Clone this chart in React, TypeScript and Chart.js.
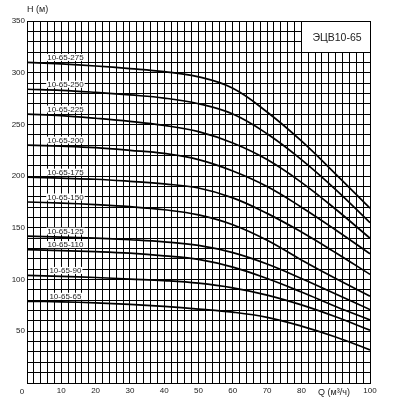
import React, { useEffect, useRef } from "react";
import { Chart, registerables } from "chart.js";

Chart.register(...registerables);

const Q_POINTS = [0, 10, 20, 30, 40, 50, 60, 70, 80, 90, 100];

const H_275 = [310, 308.5, 306.5, 304, 301, 296, 285, 262, 234, 202, 169];
const H_250 = [284, 283, 281, 278.5, 275.5, 270, 260, 241, 216, 187, 155];
const H_225 = [260, 258.5, 256, 253, 249, 243, 232, 216, 194, 168, 140];
const H_200 = [230, 229, 227.5, 225, 222, 216, 205, 190, 170, 148, 125];
const H_175 = [199, 198, 197, 195, 192.5, 188.5, 179, 164, 146, 126, 105];
const H_150 = [175, 174, 172.5, 170.5, 167.5, 162.5, 153, 138, 119, 101, 84];
const H_125 = [142, 141, 140, 138.5, 136.5, 133, 126, 115, 101, 86, 71];
const H_110 = [129, 128, 127, 125.5, 123, 119.5, 112, 101, 88, 74, 61];
const H_90 = [104, 103, 102, 100.5, 99, 96.5, 92, 85, 75.5, 64, 51];
const H_65 = [79, 78.5, 77.5, 76, 74, 71.5, 68.5, 63.5, 55, 44.5, 32];

const SERIES_NAMES = [
  "10-65-275",
  "10-65-250",
  "10-65-225",
  "10-65-200",
  "10-65-175",
  "10-65-150",
  "10-65-125",
  "10-65-110",
  "10-65-90",
  "10-65-65",
];
const SERIES_VALUES = [H_275, H_250, H_225, H_200, H_175, H_150, H_125, H_110, H_90, H_65];

const X_TICK_LABELS = ["10", "20", "30", "40", "50", "60", "70", "80", "100"];
const LABEL_Q = 11.2;
const TITLE_TEXT = "ЭЦВ10-65";
const TITLE_BOX_Q = [80, 100];
const TITLE_BOX_H = [320, 350];
const Y_TITLE = "H (м)";
const X_TITLE = "Q (м³/ч)";
const X_TITLE_Q = 89.5;

const FONT = "'Liberation Sans', Arial, sans-serif";

const overlayPlugin = {
  id: "overlay",
  afterDatasetsDraw(chart: any) {
    const { ctx, scales, chartArea } = chart;
    const xs = scales.x;
    const ys = scales.y;
    ctx.save();
    // curve labels
    ctx.font = `8px ${FONT}`;
    ctx.textAlign = "center";
    ctx.textBaseline = "middle";
    SERIES_NAMES.forEach((name, i) => {
      const cx = xs.getPixelForValue(LABEL_Q);
      const cy = ys.getPixelForValue(SERIES_VALUES[i][0]) - 5;
      const w = ctx.measureText(name).width;
      ctx.fillStyle = "#fff";
      ctx.fillRect(cx - w / 2 - 1, cy - 3.5, w + 2, 7);
      ctx.fillStyle = "#222";
      ctx.fillText(name, cx, cy + 0.5);
    });
    // title box
    const bx0 = Math.round(xs.getPixelForValue(TITLE_BOX_Q[0])) + 0.5;
    const bx1 = Math.round(xs.getPixelForValue(TITLE_BOX_Q[1])) + 0.5;
    const by0 = Math.round(ys.getPixelForValue(TITLE_BOX_H[1])) + 0.5;
    const by1 = Math.round(ys.getPixelForValue(TITLE_BOX_H[0])) + 0.5;
    ctx.fillStyle = "#fff";
    ctx.fillRect(bx0, by0, bx1 - bx0, by1 - by0);
    ctx.strokeStyle = "#000";
    ctx.lineWidth = 1;
    ctx.strokeRect(bx0, by0, bx1 - bx0, by1 - by0);
    ctx.fillStyle = "#222";
    ctx.font = `10.5px ${FONT}`;
    ctx.fillText(TITLE_TEXT, (bx0 + bx1) / 2 + 1, (by0 + by1) / 2 + 1);
    // axis titles
    ctx.font = `9px ${FONT}`;
    ctx.textAlign = "left";
    ctx.fillText(Y_TITLE, chartArea.left, 10);
    ctx.textAlign = "center";
    ctx.fillText(X_TITLE, xs.getPixelForValue(X_TITLE_Q), chartArea.bottom + 10);
    ctx.font = `8px ${FONT}`;
    ctx.fillText("0", chartArea.left - 5, chartArea.bottom + 9);
    ctx.restore();
  },
};

export default function App() {
  const ref = useRef<HTMLCanvasElement | null>(null);
  useEffect(() => {
    if (!ref.current) return;
    const chart = new Chart(ref.current, {
      type: "line",
      data: {
        datasets: SERIES_VALUES.map((vals, i) => ({
          label: SERIES_NAMES[i],
          data: Q_POINTS.map((q, j) => ({ x: q, y: vals[j] })),
          borderColor: "#000",
          borderWidth: 1.7,
          pointRadius: 0,
          fill: false,
          tension: 0.4,
        })),
      },
      options: {
        responsive: false,
        animation: false,
        layout: { padding: { top: 21, right: 27, left: 0, bottom: 0 } },
        plugins: { legend: { display: false }, tooltip: { enabled: false } },
        scales: {
          x: {
            type: "linear",
            min: 0,
            max: 100,
            afterFit(s: any) {
              s.height = 17;
            },
            ticks: {
              stepSize: 2,
              autoSkip: false,
              maxRotation: 0,
              padding: 3,
              color: "#222",
              font: { size: 8, family: FONT },
              callback: (v: any) => (X_TICK_LABELS.includes(String(v)) ? String(v) : ""),
            },
            grid: { color: "#000", lineWidth: 1, drawTicks: false },
            border: { color: "#000" },
          },
          y: {
            type: "linear",
            min: 0,
            max: 350,
            afterFit(s: any) {
              s.width = 27;
            },
            ticks: {
              stepSize: 10,
              autoSkip: false,
              padding: 2,
              color: "#222",
              font: { size: 8, family: FONT },
              callback: (v: any) => (Number(v) % 50 === 0 && Number(v) !== 0 ? String(v) : ""),
            },
            grid: { color: "#000", lineWidth: 1, drawTicks: false },
            border: { color: "#000" },
          },
        },
      } as any,
      plugins: [overlayPlugin],
    });
    return () => chart.destroy();
  }, []);
  return (
    <div style={{ position: "fixed", left: 0, top: 0, width: 397, height: 400, background: "#fff" }}>
      <canvas ref={ref} width={397} height={400} style={{ width: 397, height: 400 }} />
    </div>
  );
}
